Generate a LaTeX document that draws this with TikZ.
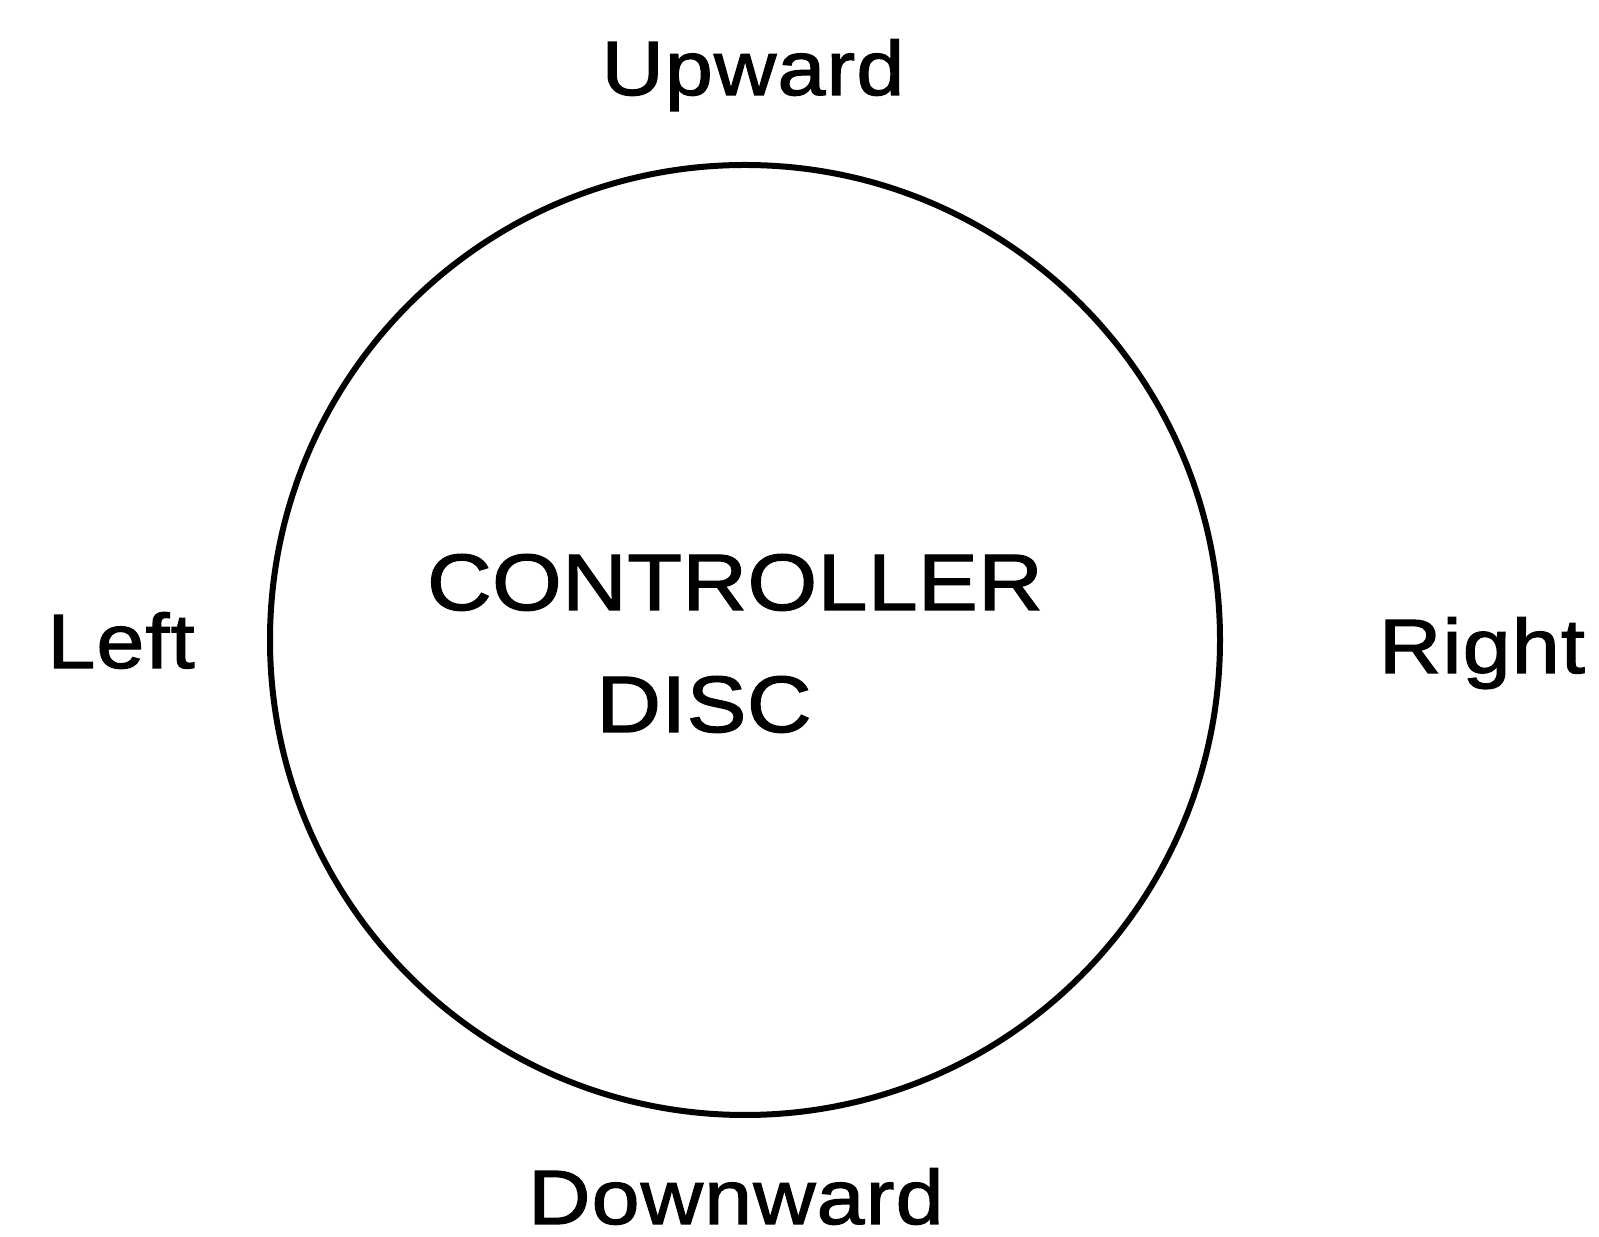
\documentclass[tikz,border=0pt]{standalone}
\usepackage{fontspec}
\setmainfont{Liberation Sans}
\newfontfamily\lblfont[FakeStretch=1.12,LetterSpace=1.5,FakeBold=1.6]{Liberation Sans}
\newfontfamily\capfont[FakeStretch=1.12,LetterSpace=0.5,FakeBold=1.6]{Liberation Sans}
\begin{document}
\begin{tikzpicture}[x=1pt,y=1pt,
  lbl/.style={inner sep=0pt, anchor=base, font=\fontsize{77}{90}\selectfont\lblfont},
  caplbl/.style={inner sep=0pt, anchor=base, font=\fontsize{80}{90}\selectfont\capfont},
  disc/.style={circle, draw=black, line width=6pt, minimum size=950pt, inner sep=0pt}]
\useasboundingbox (0,0) rectangle (1599,1237);
\node[disc] (c) at (745,597) {};
\node[lbl] (up) at (753,1142) {Upward};
\node[lbl, text depth=0pt] (down) at (736,13) {Downward};
\node[lbl] (left) at (121,569) {Left};
\node[lbl] (right) at (1482,564) {Right};
\node[caplbl] (t1) at (735,627) {CONTROLLER};
\node[caplbl] (t2) at (704,505) {DISC};
\end{tikzpicture}
\end{document}
